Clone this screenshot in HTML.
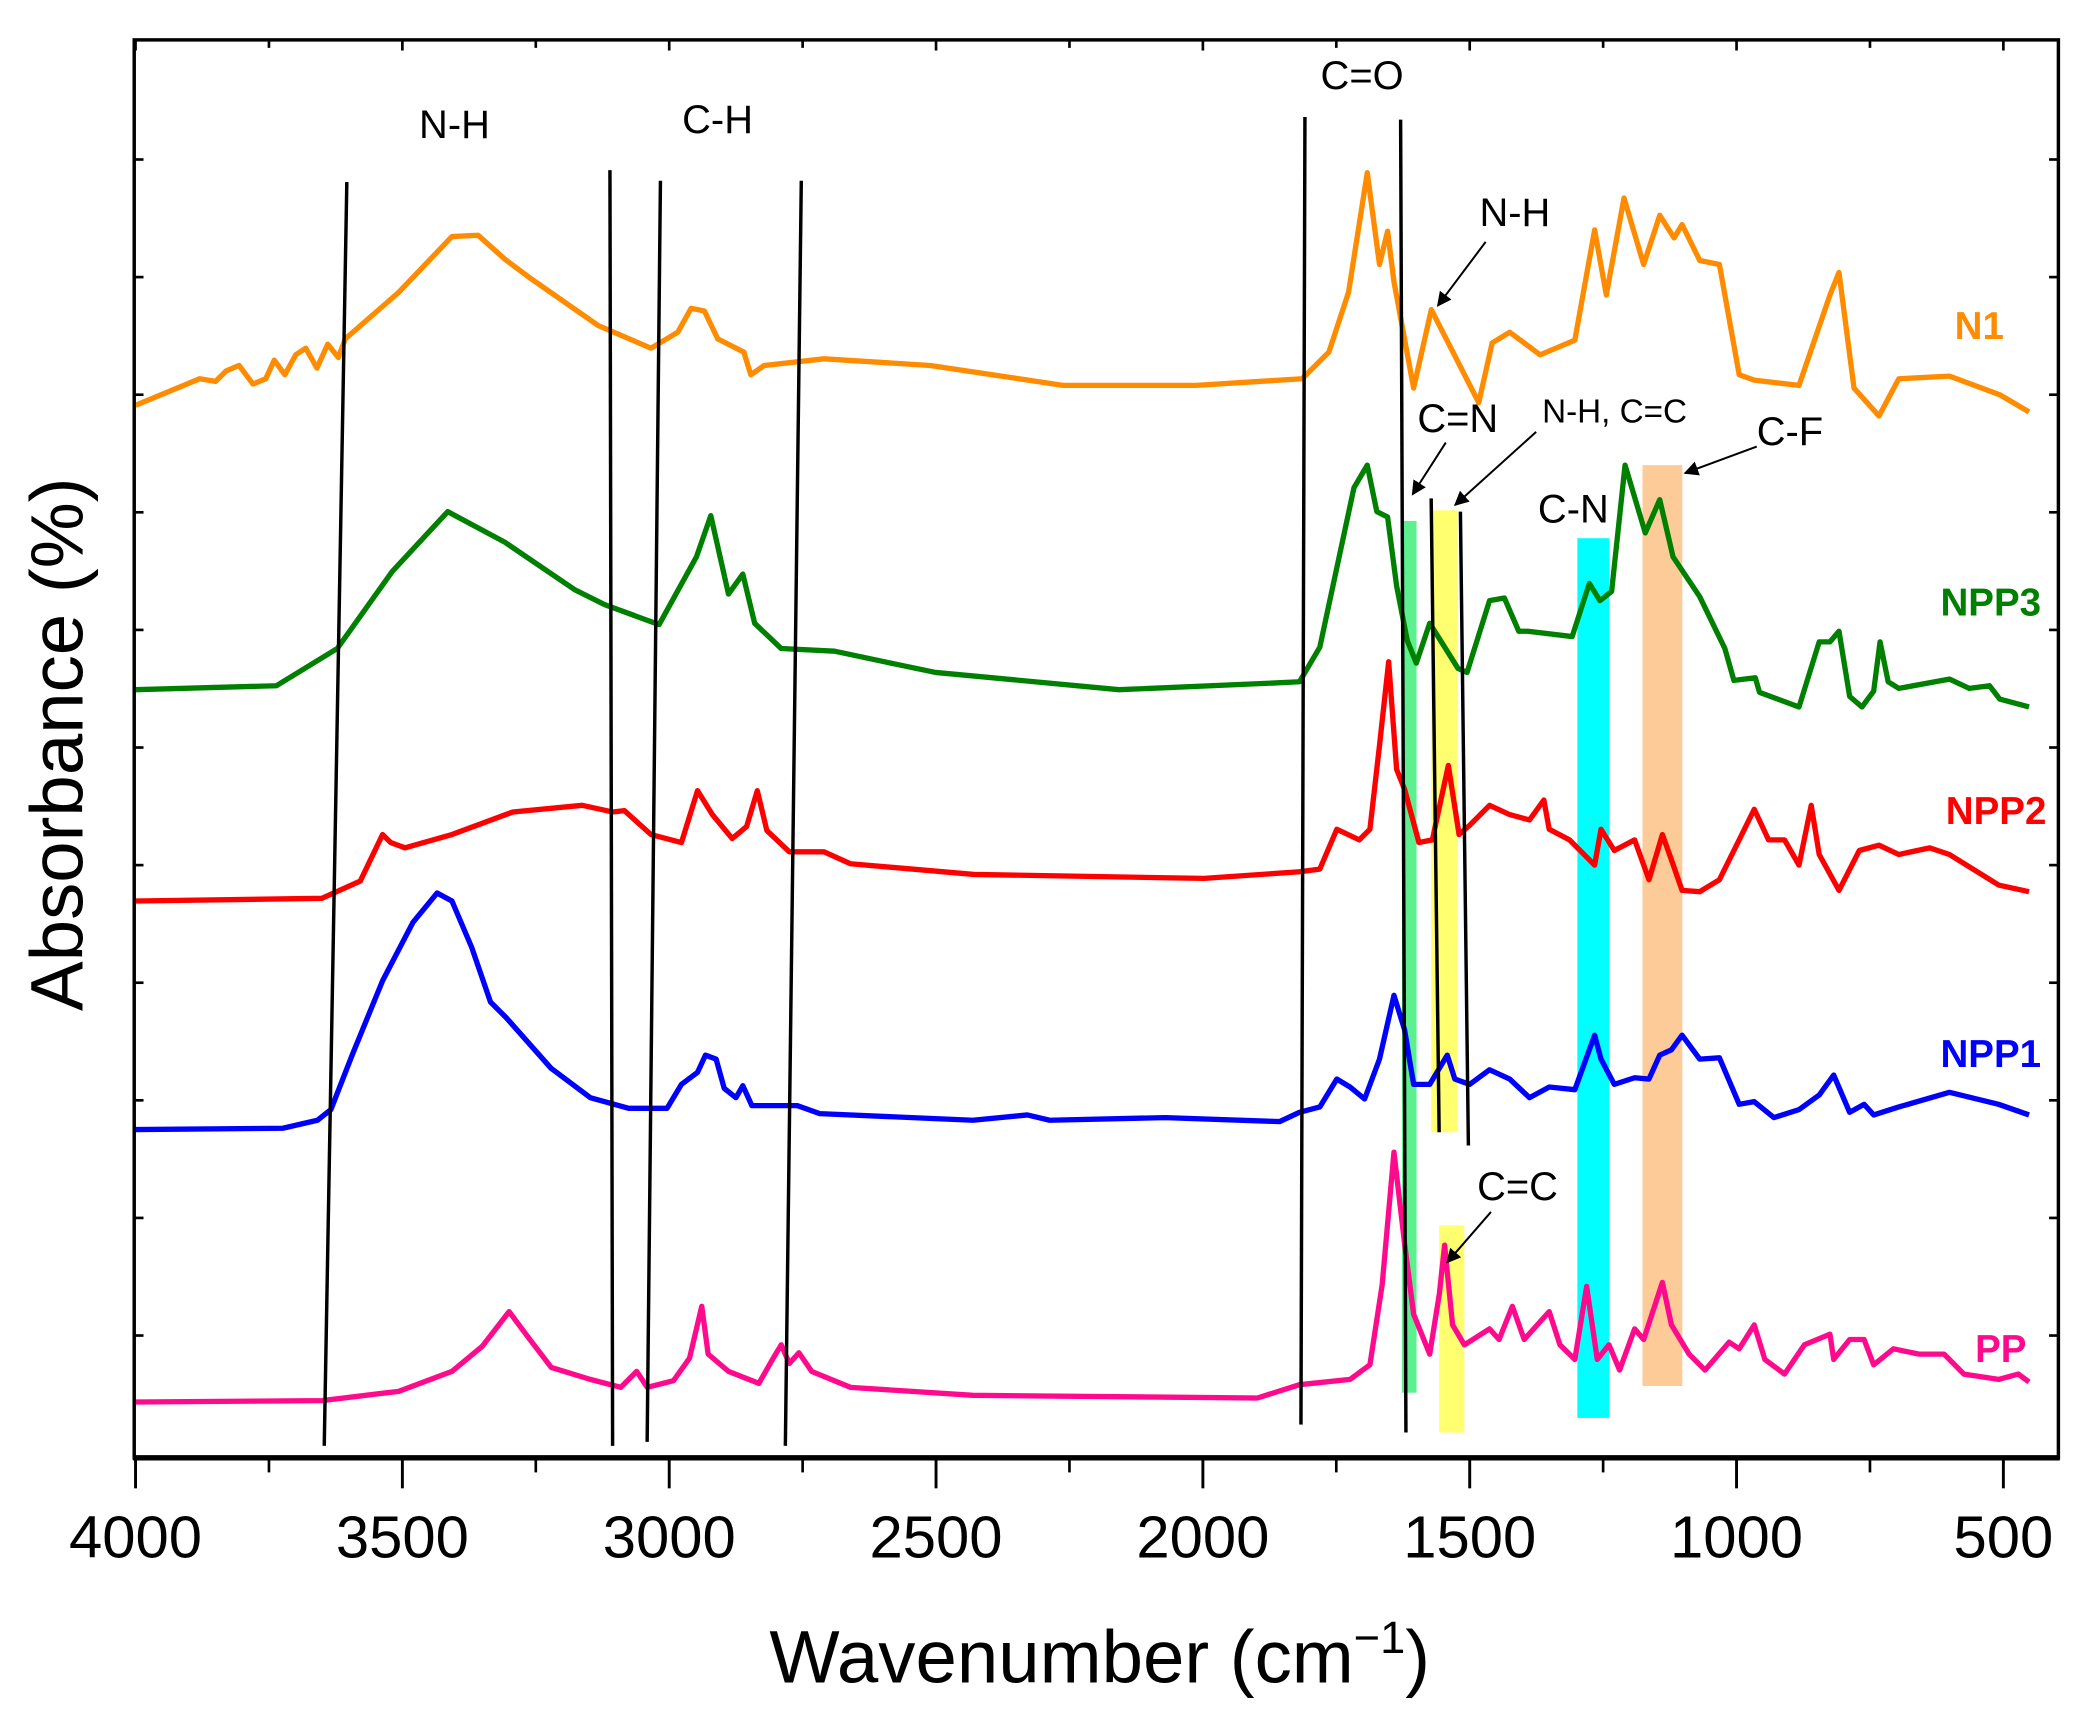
<!DOCTYPE html>
<html><head><meta charset="utf-8"><style>
html,body{margin:0;padding:0;background:#fff;}
svg{display:block;font-family:"Liberation Sans",Arial,sans-serif;}
</style></head><body>
<svg id="chart" width="2077" height="1720" viewBox="0 0 1563 1294.3" xmlns="http://www.w3.org/2000/svg">
<defs>
<marker id="ah" viewBox="0 0 10 10" refX="9" refY="5" markerWidth="11" markerHeight="11" markerUnits="userSpaceOnUse" orient="auto"><path d="M0,0 L10,5 L0,10 z" fill="#000"/></marker>
</defs>
<g id="bands">
<rect x="1055" y="392" width="11" height="656" fill="#5cf08f"/>
<rect x="1077" y="384" width="20" height="468" fill="#ffff70"/>
<rect x="1083" y="922" width="19" height="156" fill="#ffff70"/>
<rect x="1187" y="405" width="24" height="662" fill="#00ffff"/>
<rect x="1236" y="350" width="30" height="693" fill="#fdcb97"/>
</g>
<g id="series"></g>
<g id="vlines" stroke="#000" stroke-width="2.6">
<line x1="261" y1="137" x2="244" y2="1088"/>
<line x1="459" y1="128" x2="461" y2="1088"/>
<line x1="497" y1="136" x2="487" y2="1085"/>
<line x1="603" y1="136" x2="591" y2="1088"/>
<line x1="982" y1="88" x2="979" y2="1072"/>
<line x1="1054" y1="90" x2="1058" y2="1078"/>
<line x1="1077" y1="375" x2="1083" y2="852"/>
<line x1="1099" y1="385" x2="1105" y2="862"/>
</g>
<g id="frame">
<rect x="101" y="30" width="1448" height="1067" fill="none" stroke="#000" stroke-width="2.6"/>
<line x1="100" y1="1097" x2="1550" y2="1097" stroke="#000" stroke-width="4"/>
</g>
<g id="ticks"></g>
<g id="annot" font-size="30" fill="#000">
<text x="342" y="104" text-anchor="middle">N-H</text>
<text x="540" y="100" text-anchor="middle">C-H</text>
<text x="1025" y="67" text-anchor="middle">C=O</text>
<text x="1140" y="170" text-anchor="middle">N-H</text>
<line x1="1118" y1="182" x2="1082" y2="230" stroke="#000" stroke-width="1.5" marker-end="url(#ah)"/>
<text x="1097" y="325" text-anchor="middle">C=N</text>
<line x1="1088" y1="333" x2="1063" y2="372" stroke="#000" stroke-width="1.5" marker-end="url(#ah)"/>
<text x="1215" y="318" text-anchor="middle" font-size="25">N-H, C=C</text>
<line x1="1156" y1="325" x2="1095" y2="380" stroke="#000" stroke-width="1.5" marker-end="url(#ah)"/>
<text x="1347" y="335" text-anchor="middle">C-F</text>
<line x1="1322" y1="336" x2="1268" y2="356" stroke="#000" stroke-width="1.5" marker-end="url(#ah)"/>
<text x="1184" y="393" text-anchor="middle">C-N</text>
<text x="1142" y="903" text-anchor="middle">C=C</text>
<line x1="1122" y1="912" x2="1089" y2="950" stroke="#000" stroke-width="1.5" marker-end="url(#ah)"/>
</g>
<g id="legend" font-size="29" font-weight="bold" text-anchor="end">
<text x="1508" y="255" fill="#ff8c00">N1</text>
<text x="1536" y="463" fill="#008000">NPP3</text>
<text x="1540" y="620" fill="#ff0000">NPP2</text>
<text x="1536" y="803" fill="#0000ff">NPP1</text>
<text x="1525" y="1025" fill="#ff0a8c">PP</text>
</g>
<text x="579" y="1266" font-size="56">Wavenumber (cm<tspan dy="-22" font-size="34">−1</tspan><tspan dy="22">)</tspan></text>
<text transform="translate(62,560) rotate(-90)" text-anchor="middle" font-size="56">Absorbance (%)</text>
</svg>
<script>
const xTickValues = [4000,3500,3000,2500,2000,1500,1000,500];
const xTickLabels = ["4000","3500","3000","2500","2000","1500","1000","500"];
const xMinorValues = [3750,3250,2750,2250,1750,1250,750];

const n1Wn = [4000,3880,3850,3830,3806,3780,3756,3740,3720,3700,3681,3660,3640,3620,3607,3507,3407,3358,3308,3258,3133,3034,2984,2959,2934,2909,2860,2847,2822,2710,2511,2262,2013,1814,1764,1727,1692,1669,1654,1642,1605,1572,1483,1458,1425,1368,1303,1266,1244,1211,1174,1144,1117,1102,1069,1032,995,967,883,825,808,780,733,696,601,507,452];
const n1Abs = [792,812,810,818,822,808,812,826,815,830,835,820,838,828,842,877,919,920,902,887,852,835,847,865,863,842,832,815,822,827,822,807,807,812,832,877,967,898,923,885,805,864,794,839,847,830,841,924,875,948,898,935,918,928,901,898,815,811,807,875,892,805,784,812,814,800,787];

const npp3Wn = [4000,3736,3622,3519,3415,3308,3176,3121,3019,2949,2922,2889,2862,2840,2790,2690,2573,2501,2157,1869,1819,1781,1717,1692,1674,1654,1637,1617,1600,1575,1522,1505,1463,1435,1408,1391,1308,1276,1256,1234,1209,1171,1144,1119,1069,1022,1005,965,957,883,845,825,808,788,765,743,731,716,696,601,564,526,507,452];
const npp3Abs = [578,581,609,667,712,689,653,642,627,678,709,650,665,628,609,607,597,591,578,583,584,610,730,747,712,708,656,615,598,628,594,591,645,647,622,622,618,658,645,652,747,696,721,678,648,609,585,587,576,565,614,614,622,573,565,577,614,584,579,586,579,581,571,565];

const npp2Wn = [4000,3651,3579,3537,3522,3495,3407,3293,3163,3106,3084,3034,2977,2947,2919,2882,2855,2835,2817,2775,2710,2660,2429,1998,1819,1781,1749,1707,1687,1669,1652,1637,1622,1595,1570,1540,1520,1500,1463,1425,1388,1361,1351,1313,1293,1266,1254,1229,1191,1164,1139,1122,1102,1069,1032,995,967,940,910,883,860,845,808,770,733,696,638,601,509,452];
const npp2Abs = [419,421,434,469,463,459,469,486,491,486,487,469,463,502,484,466,475,502,472,456,456,447,439,436,441,443,473,465,473,536,599,518,503,463,465,521,469,476,491,484,480,495,473,465,457,446,473,457,465,435,469,450,427,426,435,465,488,465,465,446,491,454,427,457,461,454,459,454,431,426];

const npp1Wn = [4000,3724,3659,3634,3594,3537,3480,3435,3407,3370,3335,3305,3221,3148,3076,3004,2977,2947,2932,2912,2897,2875,2862,2845,2790,2760,2718,2431,2329,2287,2070,1856,1819,1781,1749,1724,1697,1669,1642,1622,1605,1575,1542,1528,1500,1463,1425,1388,1351,1303,1266,1254,1229,1191,1164,1144,1122,1102,1069,1032,995,967,930,883,845,818,788,761,743,696,601,509,452];
const npp1Abs = [247,248,254,262,303,359,403,425,419,384,343,331,293,271,263,263,281,290,303,300,278,271,280,265,265,265,259,254,258,254,256,253,260,264,285,279,270,300,348,322,281,281,303,285,281,292,285,271,279,277,318,300,281,286,285,303,307,318,300,301,266,268,256,262,273,288,260,266,258,264,275,266,258];

const ppWn = [4000,3651,3507,3407,3350,3300,3263,3221,3148,3091,3061,3041,2992,2962,2939,2927,2889,2832,2805,2790,2775,2757,2733,2660,2431,1898,1819,1724,1687,1664,1642,1622,1605,1575,1557,1547,1532,1510,1463,1445,1420,1398,1351,1331,1303,1281,1261,1239,1219,1191,1174,1139,1122,1089,1059,1014,995,967,947,910,873,825,818,788,761,743,706,658,611,574,509,472,452];
const ppAbs = [42,43,50,65,84,110,90,68,59,53,65,53,58,75,114,78,65,56,75,85,71,79,65,53,47,45,55,59,70,130,230,161,108,78,123,160,100,85,97,89,114,89,110,85,74,129,74,85,66,97,89,132,100,78,66,87,82,100,74,63,85,93,74,89,89,70,82,78,78,63,59,63,57];

const NS = "http://www.w3.org/2000/svg";
function xScale(wn){ return 102 + (4000 - wn) * 200.8 / 500; }
function yScale(v){ return 1097 - v; }

const seriesG = document.getElementById('series');
function drawSeries(wns, vals, color, name){
  let d = "";
  for (let i = 0; i < wns.length; i++) {
    d += (i ? "L" : "M") + xScale(wns[i]).toFixed(1) + "," + yScale(vals[i]).toFixed(1);
  }
  const p = document.createElementNS(NS, 'path');
  p.setAttribute('d', d);
  p.setAttribute('fill', 'none');
  p.setAttribute('stroke', color);
  p.setAttribute('stroke-width', '4');
  p.setAttribute('stroke-linejoin', 'round');
  
  
  seriesG.appendChild(p);
}
drawSeries(n1Wn, n1Abs, '#ff8c00', 'series-n1');
drawSeries(npp3Wn, npp3Abs, '#008000', 'series-npp3');
drawSeries(npp2Wn, npp2Abs, '#ff0000', 'series-npp2');
drawSeries(npp1Wn, npp1Abs, '#0000ff', 'series-npp1');
drawSeries(ppWn, ppAbs, '#ff0a8c', 'series-pp');

const tg = document.getElementById('ticks');
function ln(x1,y1,x2,y2,w,name){
  const l = document.createElementNS(NS,'line');
  l.setAttribute('x1',x1); l.setAttribute('y1',y1); l.setAttribute('x2',x2); l.setAttribute('y2',y2);
  l.setAttribute('stroke','#000'); l.setAttribute('stroke-width',w);
  
  
  tg.appendChild(l);
}
xTickValues.forEach((v,i)=>{
  const x = xScale(v);
  ln(x,1097,x,1120,2.2,'x-major-tick');
  ln(x,30,x,38,2,'top-tick');
  const t = document.createElementNS(NS,'text');
  t.setAttribute('x', x); t.setAttribute('y', 1172);
  t.setAttribute('text-anchor','middle'); t.setAttribute('font-size','45');
  t.textContent = xTickLabels[i];
  
  
  tg.appendChild(t);
});
xMinorValues.forEach(v=>{
  const x = xScale(v);
  ln(x,1097,x,1108,2,'x-minor-tick');
  ln(x,30,x,36,2,'top-minor-tick');
});
for (let y = 120; y < 1090; y += 88.5) {
  ln(101,y,108,y,2,'y-tick');
  ln(1542,y,1549,y,2,'right-tick');
}
</script>
</body></html>
